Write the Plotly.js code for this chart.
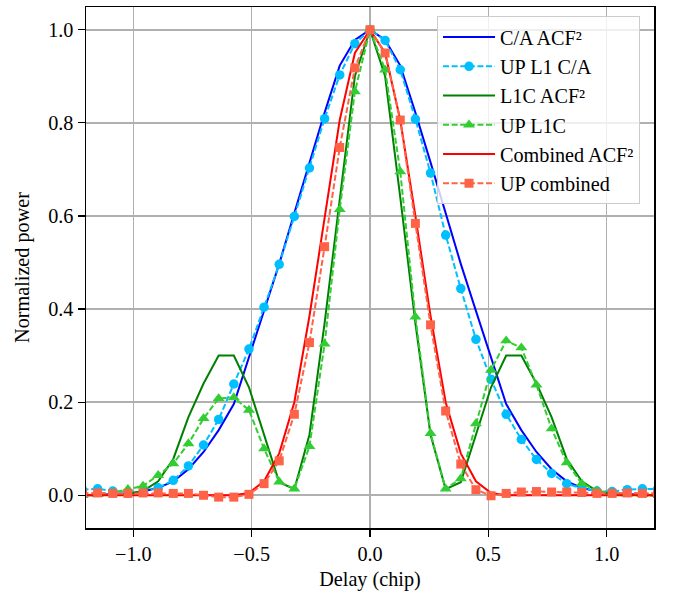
<!DOCTYPE html>
<html>
<head>
<meta charset="utf-8">
<script src="https://cdn.plot.ly/plotly-3.0.1.min.js"></script>
<style>html,body{margin:0;padding:0;background:#fff;}#chart{width:673px;height:595px;}</style>
</head>
<body>
<div id="chart"></div>
<script>
// Delay (chip), sample index k = -19..19
const delay = [-1.2148,-1.1509,-1.0869,-1.0230,-0.9591,-0.8951,-0.8312,-0.7673,-0.7033,-0.6394,-0.5754,-0.5115,-0.4476,-0.3836,-0.3197,-0.2558,-0.1918,-0.1279,-0.0639,0,
  0.0639,0.1279,0.1918,0.2558,0.3197,0.3836,0.4476,0.5115,0.5754,0.6394,0.7033,0.7673,0.8312,0.8951,0.9591,1.0230,1.0869,1.1509,1.2148];

const caAcf = [0,0.001,0.002,0.004,0.008,0.016,0.030,0.056,0.093,0.140,0.196,0.296,0.396,0.497,0.606,0.715,0.822,0.923,0.978,1.0,
  0.978,0.923,0.822,0.715,0.606,0.497,0.396,0.296,0.196,0.140,0.093,0.056,0.030,0.016,0.008,0.004,0.002,0.001,0];

const upCa = [0.012,0.014,0.009,0.005,0.007,0.016,0.032,0.063,0.108,0.163,0.239,0.314,0.404,0.496,0.599,0.703,0.809,0.903,0.970,1.0,
  0.977,0.914,0.808,0.692,0.559,0.444,0.335,0.249,0.174,0.120,0.077,0.047,0.025,0.015,0.009,0.008,0.012,0.014,0.013];

const l1cAcf = [0,0,0.001,0.003,0.009,0.030,0.078,0.168,0.240,0.300,0.300,0.232,0.130,0.028,0.013,0.130,0.370,0.640,0.900,1.0,
  0.900,0.640,0.370,0.130,0.013,0.028,0.130,0.232,0.300,0.300,0.240,0.168,0.078,0.030,0.009,0.003,0.001,0,0];

const upL1c = [0,0.002,0.006,0.013,0.020,0.043,0.068,0.111,0.165,0.208,0.210,0.183,0.100,0.029,0.014,0.105,0.325,0.614,0.867,1.0,
  0.914,0.695,0.383,0.133,0.014,0.036,0.154,0.269,0.332,0.317,0.237,0.143,0.070,0.025,0.010,0.005,0.003,0.002,0.002];

const combAcf = [0,0,0,0,0,0,0,0,0,0,0,0.005,0.030,0.090,0.200,0.385,0.600,0.806,0.950,1.0,
  0.950,0.806,0.600,0.385,0.200,0.090,0.030,0.005,0,0,0,0,0,0,0,0,0,0,0];

const upComb = [0.004,0.005,0.004,0.004,0.005,0.005,0.004,0.004,0.0,-0.004,-0.004,0.002,0.025,0.074,0.174,0.328,0.534,0.747,0.918,1.0,
  0.950,0.806,0.584,0.366,0.181,0.067,0.012,-0.001,0.004,0.007,0.008,0.007,0.007,0.006,0.004,0.004,0.005,0.004,0.004];

const seriesNames = ['C/A ACF²','UP L1 C/A','L1C ACF²','UP L1C','Combined ACF²','UP combined'];
const xTickVals = [-1.0,-0.5,0.0,0.5,1.0];
const xTickText = ['\u22121.0','\u22120.5','0.0','0.5','1.0'];
const yTickVals = [0.0,0.2,0.4,0.6,0.8,1.0];
const yTickText = ['0.0','0.2','0.4','0.6','0.8','1.0'];

const FONT = '"Liberation Serif", "Times New Roman", serif';
const FS = 20.2;
const LW = 2;
const DASH = '6px,2.6px';

function solid(y, name, color) {
  return {x: delay, y: y, name: name, type: 'scatter', mode: 'lines',
    line: {color: color, width: LW}};
}
function dashed(y, name, color, symbol, size) {
  return {x: delay, y: y, name: name, type: 'scatter', mode: 'lines+markers',
    line: {color: color, width: LW, dash: DASH},
    marker: {color: color, symbol: symbol, size: size}};
}

const traces = [
  solid(caAcf, seriesNames[0], '#0000ff'),
  dashed(upCa, seriesNames[1], '#00bfff', 'circle', 9.5),
  solid(l1cAcf, seriesNames[2], '#008000'),
  dashed(upL1c, seriesNames[3], '#32cd32', 'triangle-up', 10.5),
  solid(combAcf, seriesNames[4], '#ff0000'),
  dashed(upComb, seriesNames[5], '#ff6347', 'square', 9)
];

const axisCommon = {
  showline: true, mirror: true, linecolor: '#000', linewidth: 1.5,
  ticks: 'outside', ticklen: 7, tickwidth: 1.3, tickcolor: '#000',
  showgrid: true, gridcolor: '#b0b0b0', gridwidth: 1.6,
  zeroline: false,
  tickfont: {family: FONT, size: FS, color: '#000'}
};

const layout = {
  width: 673, height: 595,
  margin: {l: 86, r: 19, t: 7, b: 67, pad: 0},
  paper_bgcolor: '#fff', plot_bgcolor: '#fff',
  font: {family: FONT, size: FS, color: '#000'},
  xaxis: Object.assign({}, axisCommon, {
    range: [-1.2, 1.2], tickmode: 'array', tickvals: xTickVals, ticktext: xTickText,
    title: {text: 'Delay (chip)', font: {family: FONT, size: FS}, standoff: 8}
  }),
  yaxis: Object.assign({}, axisCommon, {
    range: [-0.0703, 1.0488], tickmode: 'array', tickvals: yTickVals, ticktext: yTickText,
    title: {text: 'Normalized power', font: {family: FONT, size: FS}, standoff: 13}
  }),
  showlegend: true,
  legend: {
    x: 0.618, y: 0.982, xanchor: 'left', yanchor: 'top',
    bgcolor: 'rgba(255,255,255,0.8)', bordercolor: '#cccccc', borderwidth: 1,
    font: {family: FONT, size: FS, color: '#000'},
    traceorder: 'normal', itemwidth: 52
  }
};

Plotly.newPlot('chart', traces, layout, {displayModeBar: false, staticPlot: true});
</script>
</body>
</html>
